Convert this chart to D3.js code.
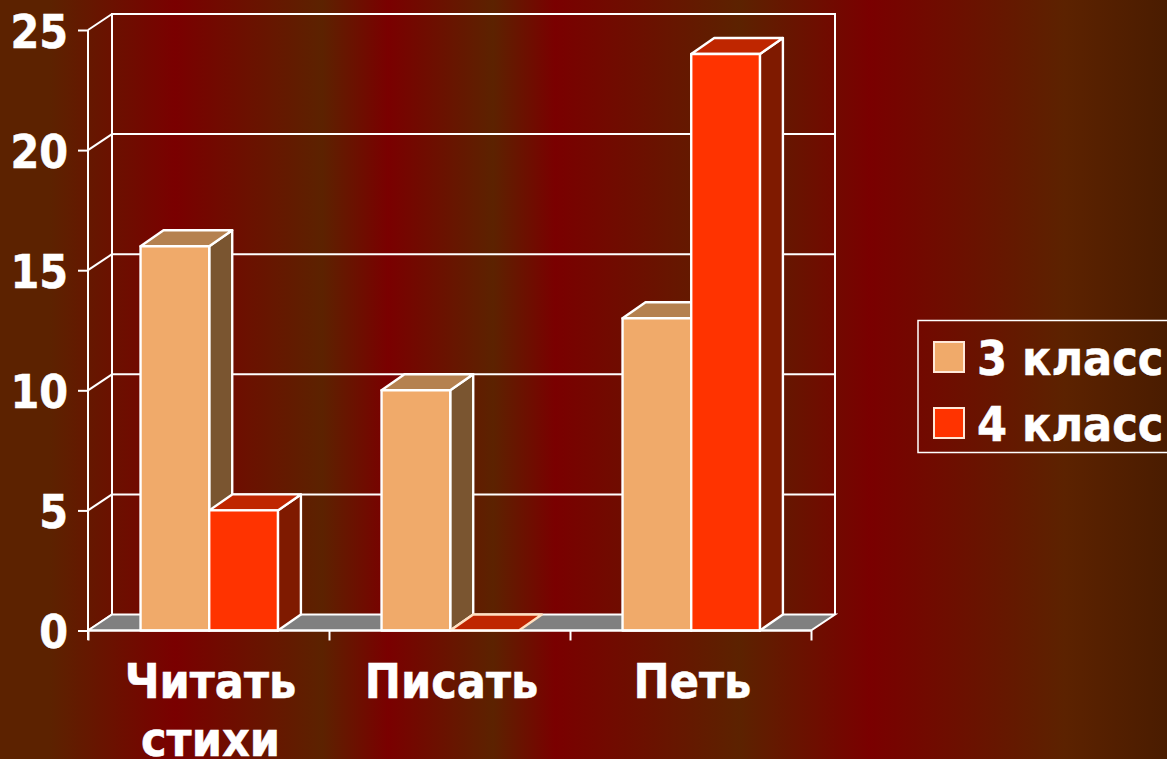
<!DOCTYPE html>
<html><head><meta charset="utf-8">
<script src="https://cdn.jsdelivr.net/npm/d3@7"></script>
<style>html,body{margin:0;padding:0;overflow:hidden;background:#5c2200}svg{display:block}
text{font-family:"DejaVu Sans Condensed","DejaVu Sans",sans-serif;font-stretch:condensed;font-weight:700;fill:#fff;stroke:#fff;stroke-width:0.5px}</style></head>
<body><svg id="c" width="1167" height="759"></svg>
<script>
const categories = ["Читать стихи", "Писать", "Петь"];
const categoryLines = [["Читать", "стихи"], ["Писать"], ["Петь"]];
const seriesNames = ["3 класс", "4 класс"];
const class3 = [16, 10, 13];
const class4 = [5, 0, 24];
const yTicks = [0, 5, 10, 15, 20, 25];
const bgStops = [[0,"#5c2200"],[50,"#5c2200"],[175,"#7a0000"],[322,"#5c2200"],[388,"#7a0000"],[493,"#5c2200"],[555,"#7a0000"],[740,"#5c2200"],[870,"#7a0000"],[1064,"#5c2200"],[1167,"#4a1c00"]];
const seriesFill = [
  {front:"#f0aa6a", top:"#b5814f", side:"#7a5530"},
  {front:"#ff3300", top:"#bf2600", side:"#7f1a00"}
];

const W = 1167, H = 759;
const svg = d3.select("#c");
const defs = svg.append("defs");
const g = defs.append("linearGradient").attr("id","bg").attr("gradientUnits","userSpaceOnUse")
  .attr("x1",0).attr("x2",W).attr("y1",0).attr("y2",0);
bgStops.forEach(s => g.append("stop").attr("offset", s[0]/W).attr("stop-color", s[1]));
svg.append("rect").attr("width",W).attr("height",H).attr("fill","url(#bg)");

const x = d3.scaleBand().domain(categories).range([88,811]);
const y = d3.scaleLinear().domain([0,25]).range([630.5,30]);
const sub = d3.scaleBand().domain([0,1]).range([x.bandwidth()*0.218, x.bandwidth()*0.788]);
const dx = 24, dy = -16, bdx = 23, bdy = -16;
const W2 = "#ffffff";
const FS = 48, FS_TICK = 46;

// walls
const wall = svg.append("g").attr("fill","none").attr("stroke",W2).attr("stroke-width",2);
wall.append("path").attr("d",`M${88+dx},${y(0)+dy}V${y(25)+dy}H${811+dx}V${y(0)+dy}`);
yTicks.forEach(t=>{
  if(t>0&&t<25) wall.append("line").attr("x1",88+dx).attr("x2",811+dx).attr("y1",y(t)+dy).attr("y2",y(t)+dy);
  wall.append("line").attr("x1",88).attr("x2",88+dx).attr("y1",y(t)).attr("y2",y(t)+dy);
});
// floor
svg.append("path").attr("d",`M88,${y(0)}L${88+dx},${y(0)+dy}H${811+dx}L811,${y(0)}Z`)
  .attr("fill","#808080").attr("stroke",W2).attr("stroke-width",2);

// bars
categories.forEach((c,i)=>{
  [class3[i],class4[i]].forEach((v,s)=>{
    const x0 = x(c)+sub(s), x1 = x0+sub.bandwidth(), yt = y(v), yb = y(0), col = seriesFill[s];
    const b = svg.append("g").attr("stroke",W2).attr("stroke-width",2.4).attr("stroke-linejoin","round");
    if(v>0){
      b.append("path").attr("d",`M${x1},${yb}V${yt}L${x1+bdx},${yt+bdy}V${yb+bdy}Z`).attr("fill",col.side);
      b.append("path").attr("d",`M${x0},${yt}L${x0+bdx},${yt+bdy}H${x1+bdx}L${x1},${yt}Z`).attr("fill",col.top);
      b.append("rect").attr("x",x0).attr("y",yt).attr("width",x1-x0).attr("height",yb-yt).attr("fill",col.front);
    } else {
      b.append("path").attr("d",`M${x0},${yt}L${x0+bdx},${yt+bdy}H${x1+bdx}L${x1},${yt}Z`).attr("fill",col.top).attr("stroke","#ffe0c0");
    }
  });
});

// axes
const ya = svg.append("g").attr("transform","translate(88,0)")
  .call(d3.axisLeft(y).tickValues(yTicks).tickSize(10).tickPadding(10));
ya.select(".domain").attr("stroke",W2).attr("stroke-width",2).attr("d",`M0,${y(25)}V640`);
ya.selectAll("line").attr("stroke",W2).attr("stroke-width",2);
ya.selectAll("text").attr("font-size",FS_TICK).attr("dy","0.37em").attr("fill",W2)
  .style("font-family",'"DejaVu Sans Condensed","DejaVu Sans",sans-serif').style("font-weight",700);

const xa = svg.append("g").attr("transform",`translate(0,${y(0)})`)
  .call(d3.axisBottom(d3.scaleLinear().domain([0,3]).range([88,811])).tickValues([0,1,2,3]).tickSize(10).tickFormat(""));
xa.select(".domain").attr("stroke",W2).attr("stroke-width",2).attr("d","M88,0H811");
xa.selectAll("line").attr("stroke",W2).attr("stroke-width",2);

categories.forEach((c,i)=>{
  categoryLines[i].forEach((l,j)=>{
    svg.append("text").attr("x",x(c)+x.bandwidth()/2+2).attr("y",698+j*58)
      .attr("text-anchor","middle").attr("font-size",FS).text(l);
  });
});

// legend
svg.append("rect").attr("x",918).attr("y",320.5).attr("width",300).attr("height",132)
  .attr("fill","none").attr("stroke",W2).attr("stroke-width",1.5);
seriesNames.forEach((n,i)=>{
  const ly = 342+i*66;
  svg.append("rect").attr("x",934).attr("y",ly).attr("width",30).attr("height",30)
    .attr("fill",seriesFill[i].front).attr("stroke","#ffe8d8").attr("stroke-width",2);
  svg.append("text").attr("x",977).attr("y",ly+33).attr("font-size",FS).text(n);
});
</script></body></html>
